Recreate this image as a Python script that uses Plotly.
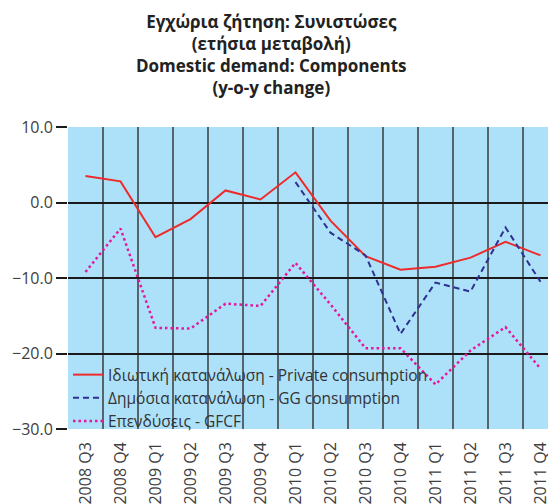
import plotly.graph_objects as go

categories = ["2008 Q3", "2008 Q4", "2009 Q1", "2009 Q2", "2009 Q3", "2009 Q4",
              "2010 Q1", "2010 Q2", "2010 Q3", "2010 Q4", "2011 Q1", "2011 Q2",
              "2011 Q3", "2011 Q4"]
private_consumption = [3.5, 2.8, -4.6, -2.2, 1.6, 0.4, 4.0, -2.4, -7.1, -8.9, -8.5, -7.3, -5.2, -7.0]
gg_consumption = [None, None, None, None, None, None, 2.7, -4.0, -7.0, -17.4, -10.6, -11.8, -3.3, -10.5]
gfcf = [-9.2, -3.45, -16.6, -16.7, -13.4, -13.7, -8.0, -13.5, -19.3, -19.3, -24.1, -19.6, -16.5, -22.0]

names = ["Ιδιωτική κατανάλωση - Private consumption",
         "Δημόσια κατανάλωση - GG consumption",
         "Επενδύσεις - GFCF"]
title_text = ("Εγχώρια ζήτηση: Συνιστώσες<br>(ετήσια μεταβολή)<br>"
              "Domestic demand: Components<br>(y-o-y change)")

FONT = "Open Sans"

fig = go.Figure()
fig.add_trace(go.Scatter(x=categories, y=private_consumption, name=names[0], mode="lines",
                         line=dict(color="#EE2B2B", width=2)))
fig.add_trace(go.Scatter(x=categories, y=gg_consumption, name=names[1], mode="lines",
                         line=dict(color="#2E3192", width=2, dash="6px,4px")))
fig.add_trace(go.Scatter(x=categories, y=gfcf, name=names[2], mode="lines",
                         line=dict(color="#E4169C", width=2.5, dash="2.5px,3px")))

fig.add_annotation(text="<b>" + title_text + "</b>", xref="paper", yref="paper",
                   x=0.418, xanchor="center", y=1.395, yanchor="top", showarrow=False,
                   align="center", font=dict(family=FONT, size=17, color="#222222"))

fig.update_layout(
    width=548, height=496,
    margin=dict(l=60, r=0, t=119, b=75),
    paper_bgcolor="white",
    plot_bgcolor="#ADE1FA",
    font=dict(family=FONT, color="#404040", size=15),
    showlegend=True,
    legend=dict(x=0.0, xanchor="left", y=-0.03, yanchor="bottom",
                bgcolor="rgba(0,0,0,0)", font=dict(family=FONT, size=15.5, color="#333333"),
                tracegroupgap=0),
    xaxis=dict(type="category", range=[-0.5, 13.443], tickson="boundaries",
               showgrid=True, gridcolor="#56646B", gridwidth=2.2,
               ticks="", tickangle=-90, ticklabelstandoff=9,
               tickfont=dict(size=16, color="#404040"),
               showline=False, zeroline=False),
    yaxis=dict(range=[-30, 10], dtick=10, tick0=-30, tickformat=".1f",
               showgrid=True, gridcolor="#1A1A1A", gridwidth=1.5,
               zeroline=True, zerolinecolor="#1A1A1A", zerolinewidth=1.5,
               ticks="outside", ticklen=11, tickcolor="#1A1A1A", tickwidth=1.5,
               tickfont=dict(size=16, color="#404040"), showline=False),
)

fig.write_html("out.html")
